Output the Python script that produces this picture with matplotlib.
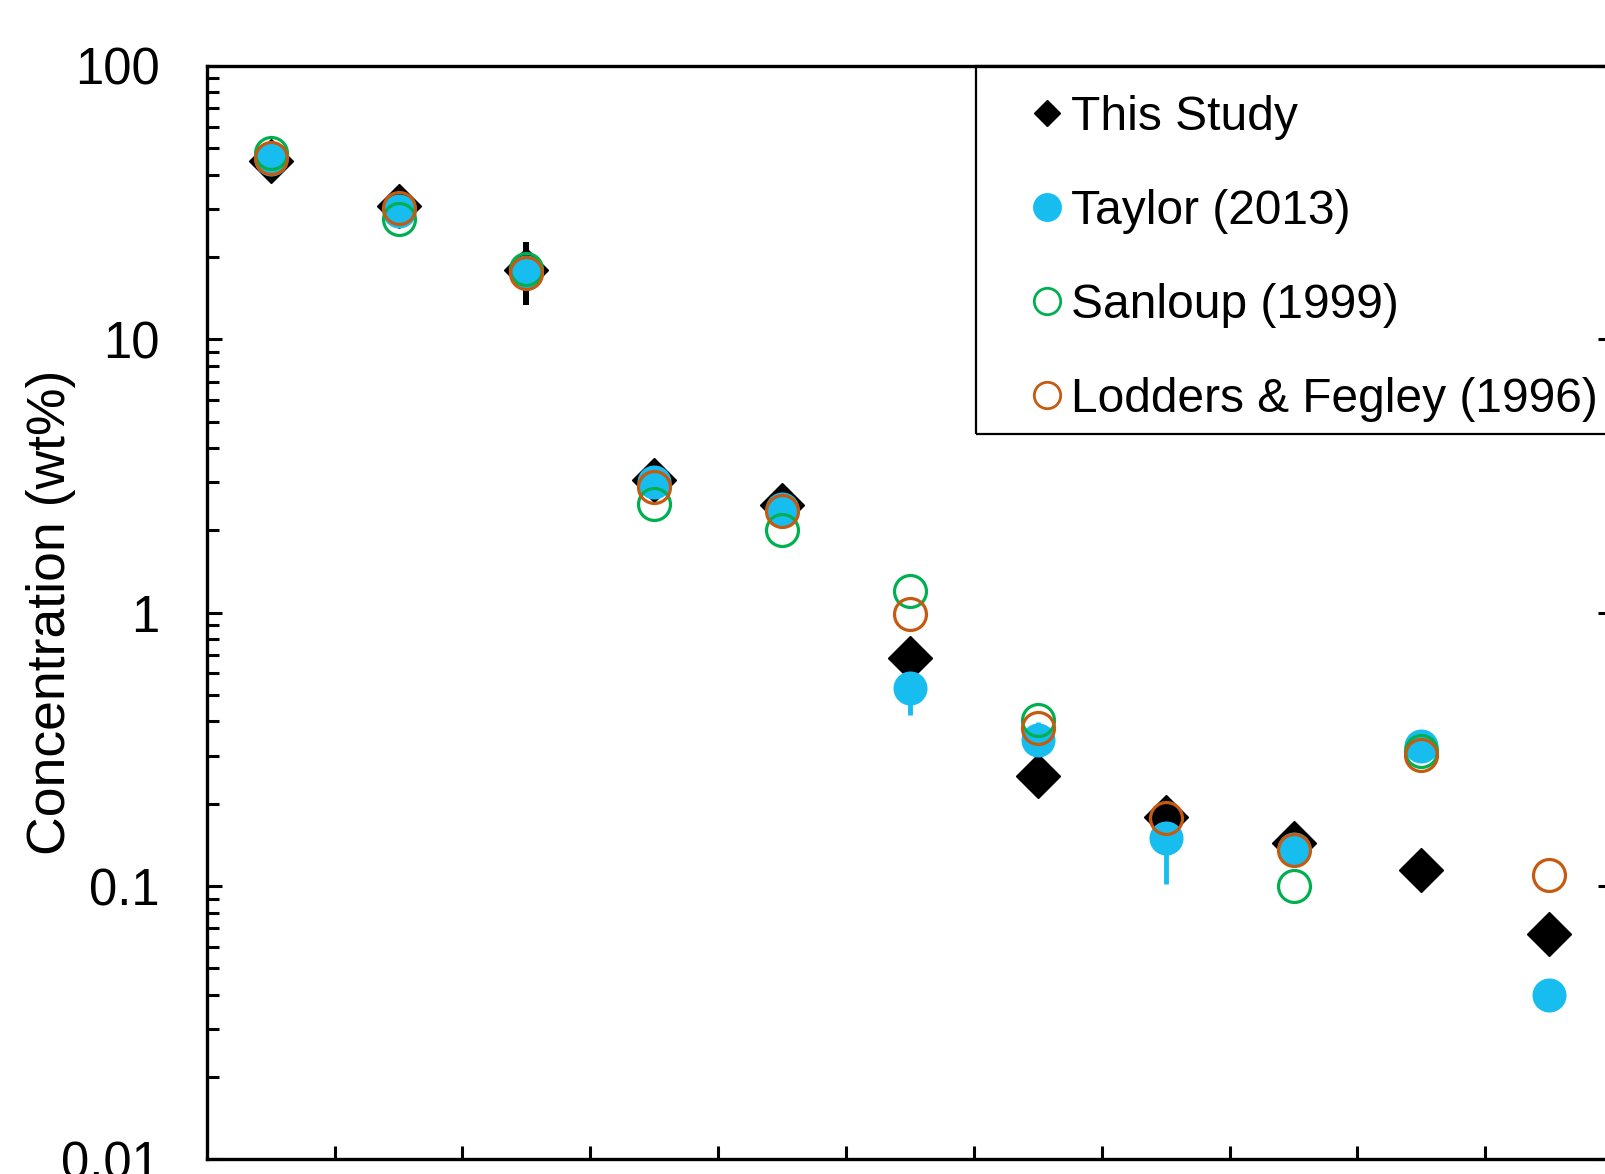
import numpy as np
import matplotlib
matplotlib.use('Agg')
import matplotlib.pyplot as plt
from matplotlib.lines import Line2D
from matplotlib.patches import Rectangle

plt.rcParams['font.family'] = ['Liberation Sans', 'DejaVu Sans']

# element positions along the x axis (one slot per element, no labels)
positions = np.arange(11) + 0.5

this_study = [44.8, 30.8, 18.0, 3.06, 2.48, 0.685, 0.252, 0.179, 0.144, 0.114, 0.067]
this_study_err = [0, 0, 4.7, 0, 0, 0, 0, 0, 0, 0, 0]
taylor = [45.5, 29.4, 17.6, 3.01, 2.39, 0.532, 0.342, 0.150, 0.137, 0.326, 0.040]
taylor_err = [0, 0, 0, 0, 0, 0.11, 0.055, 0.048, 0, 0, 0]
sanloup = [48.0, 27.5, 18.1, 2.49, 2.00, 1.20, 0.405, np.nan, 0.100, 0.311, np.nan]
lodders = [46.1, 30.1, 17.5, 2.89, 2.35, 0.985, 0.378, 0.178, 0.136, 0.302, 0.110]

labels = ['This Study', 'Taylor (2013)', 'Sanloup (1999)', 'Lodders & Fegley (1996)']
cyan = '#18BDEF'
green = '#00B050'
orange = '#C55A11'

fig = plt.figure(figsize=(16.05, 11.74), dpi=100)
ax = fig.add_axes([0.1288, 0.01244, 0.8763, 0.9314])

# error bars sit underneath the markers
ax.errorbar(positions, taylor, yerr=taylor_err, fmt='none', ecolor=cyan,
            elinewidth=3.5, capsize=0, zorder=1)
ax.errorbar(positions, this_study, yerr=this_study_err, fmt='none', ecolor='black',
            elinewidth=4.3, capsize=0, zorder=1)

ax.plot(positions, this_study, linestyle='none', marker='D', markersize=22.5,
        color='black', zorder=2)
ax.plot(positions, taylor, linestyle='none', marker='o', markersize=24.5,
        color=cyan, markeredgewidth=0, zorder=3)
ax.plot(positions, sanloup, linestyle='none', marker='o', markersize=23,
        markerfacecolor='none', markeredgecolor=green, markeredgewidth=2.3, zorder=4)
ax.plot(positions, lodders, linestyle='none', marker='o', markersize=23,
        markerfacecolor='none', markeredgecolor=orange, markeredgewidth=2.3, zorder=5)

ax.set_yscale('log')
ax.set_ylim(0.01, 100)
ax.set_xlim(0, 11)
ax.set_xticks(np.arange(1, 11))
ax.set_xticklabels([])
ax.set_yticks([0.01, 0.1, 1, 10, 100])
ax.set_yticklabels(['0.01', '0.1', '1', '10', '100'])

for side in ['left', 'bottom', 'top', 'right']:
    ax.spines[side].set_linewidth(2.4)

ax.tick_params(axis='y', which='major', direction='in', length=10.5, width=2.2,
               labelsize=36.5, pad=34, right=True)
ax.tick_params(axis='y', which='minor', direction='in', length=8.5, width=2.2,
               right=False)
ax.tick_params(axis='x', which='major', direction='in', length=9.5, width=2.2,
               top=False)

ax.set_ylabel('Concentration (wt%)', fontsize=38.5)
ax.yaxis.set_label_coords(-0.0930, 0.5)

handles = [
    Line2D([], [], linestyle='none', marker='D', markersize=13.2, color='black'),
    Line2D([], [], linestyle='none', marker='o', markersize=20.8, color=cyan,
           markeredgewidth=0),
    Line2D([], [], linestyle='none', marker='o', markersize=19,
           markerfacecolor='none', markeredgecolor=green, markeredgewidth=2.0),
    Line2D([], [], linestyle='none', marker='o', markersize=19,
           markerfacecolor='none', markeredgecolor=orange, markeredgewidth=2.0),
]
ax.legend(handles, labels, loc='upper left', frameon=False, fontsize=34.5,
          bbox_to_anchor=(1032.5 / 1605, 1 - 95 / 1174), bbox_transform=fig.transFigure,
          borderpad=0, borderaxespad=0, handlelength=0.6, handletextpad=0.2,
          labelspacing=1.02)

# legend frame
ax.add_patch(Rectangle((975.5 / 1605, 1 - 434 / 1174), 0.5, (434 - 66) / 1174,
                       transform=fig.transFigure, fill=False, edgecolor='black',
                       linewidth=1.6, clip_on=False, zorder=6))

fig.savefig('out.png', dpi=100)
